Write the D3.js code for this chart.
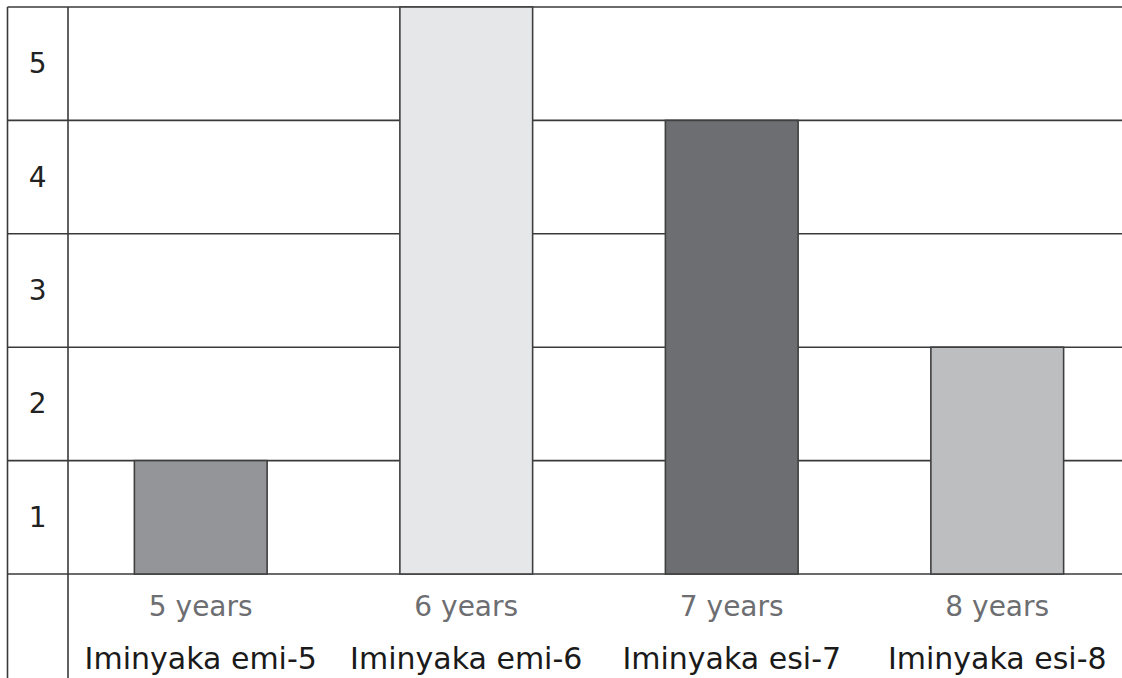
<!DOCTYPE html>
<html><head><meta charset="utf-8">
<script src="https://cdn.jsdelivr.net/npm/d3@7"></script>
<style>html,body{margin:0;padding:0;background:#fff;overflow:hidden}</style>
</head><body>
<script>
const categories = ["5 years", "6 years", "7 years", "8 years"];
const localLabels = ["Iminyaka emi-5", "Iminyaka emi-6", "Iminyaka esi-7", "Iminyaka esi-8"];
const values = [1, 5, 4, 2];
const barColors = ["#939598", "#e6e7e8", "#6d6e71", "#bcbec0"];
const yTicks = [1, 2, 3, 4, 5];

(function () {
const W = 1122, H = 678;
const leftX = 7.5, divX = 68, topY = 7, baseY = 574;
const svg = d3.select("body").append("svg").attr("width", W).attr("height", H);

const x = d3.scaleBand().domain(categories).range([divX, divX + 4 * 265.5])
  .paddingInner(0.5).paddingOuter(0.25);
const y = d3.scaleLinear().domain([0, 5]).range([baseY, topY]);

const grid = "#3a3a3a";
svg.append("g").selectAll("line").data([0, ...yTicks]).join("line")
  .attr("x1", leftX).attr("x2", W).attr("y1", d => y(d)).attr("y2", d => y(d))
  .attr("stroke", grid).attr("stroke-width", 1.6);
[leftX, divX].forEach(vx => svg.append("line").attr("x1", vx).attr("x2", vx)
  .attr("y1", topY).attr("y2", H).attr("stroke", grid).attr("stroke-width", 1.6));

svg.append("g").selectAll("rect").data(values).join("rect")
  .attr("x", (d, i) => x(categories[i])).attr("width", x.bandwidth())
  .attr("y", d => y(d)).attr("height", d => y(0) - y(d))
  .attr("fill", (d, i) => barColors[i]).attr("stroke", "#3f3f3f").attr("stroke-width", 1.6);

const font = "'DejaVu Sans', sans-serif";
svg.append("g").selectAll("text").data(yTicks).join("text")
  .attr("x", (leftX + divX) / 2).attr("y", d => (y(d) + y(d - 1)) / 2)
  .attr("text-anchor", "middle").attr("dominant-baseline", "central")
  .attr("font-family", font).attr("font-size", 28).attr("fill", "#222")
  .text(d => d);

svg.append("g").selectAll("text").data(categories).join("text")
  .attr("x", d => x(d) + x.bandwidth() / 2).attr("y", 616)
  .attr("text-anchor", "middle").attr("font-family", font)
  .attr("font-size", 28).attr("fill", "#6d6e71").text(d => d);
svg.append("g").selectAll("text").data(localLabels).join("text")
  .attr("x", (d, i) => x(categories[i]) + x.bandwidth() / 2).attr("y", 669)
  .attr("text-anchor", "middle").attr("font-family", font)
  .attr("font-size", 30).attr("fill", "#1a1a1a").text(d => d);
})();
</script>
</body></html>
